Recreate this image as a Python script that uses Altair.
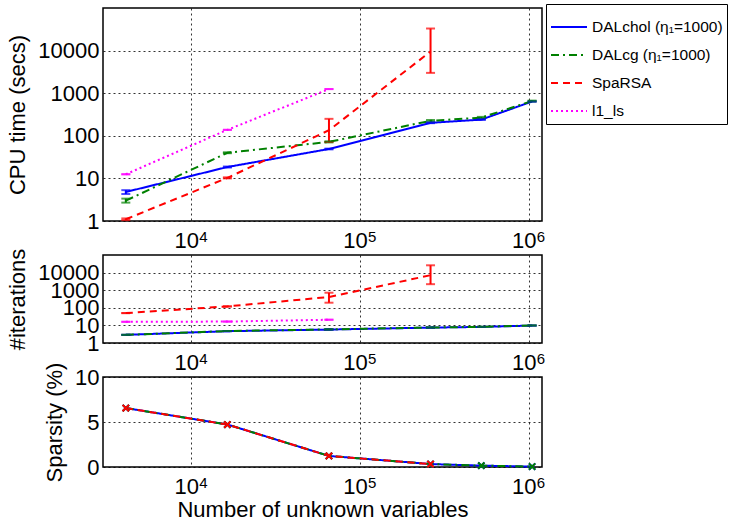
import altair as alt
import pandas as pd

FONT = "Liberation Sans"

x_vals = [4096, 16384, 65536, 262144, 524288, 1048576]
series = ["DALchol (η₁=1000)", "DALcg (η₁=1000)", "SpaRSA", "l1_ls"]
colors = ["#0000ff", "#008000", "#ff0000", "#ff00ff"]
dashes = [[1, 0], [8, 4, 2, 4], [7, 5], [2, 3]]

tick_values = [1e4, 1e5, 1e6]
tick_exponents = ["4", "5", "6"]

# CPU time (secs)
time_dalchol = [4.8, 18.5, 49, 202, 240, 640]
time_dalchol_lo = [4.3, 18.0, 48, 198, 236, 625]
time_dalchol_hi = [5.3, 19.0, 50, 206, 244, 655]
time_dalcg = [3.0, 40, 72, 225, 268, 655]
time_dalcg_lo = [2.7, 39, 70, 215, 258, 640]
time_dalcg_hi = [3.35, 41, 74, 235, 278, 670]
time_sparsa = [1.1, 10.3, 135, 9500]
time_sparsa_lo = [1.05, 10.0, 72, 3000]
time_sparsa_hi = [1.15, 10.6, 250, 33000]
time_l1ls = [12.5, 138, 1250]

# number of iterations
iter_dalchol = [2.9, 4.7, 5.8, 7.5, 8.2, 9.8]
iter_dalcg = [2.9, 4.8, 5.9, 7.6, 8.3, 9.9]
iter_sparsa = [50, 120, 410, 7100]
iter_sparsa_lo = [50, 120, 195, 2200]
iter_sparsa_hi = [50, 120, 720, 26000]
iter_l1ls = [16, 16.5, 21]

# sparsity (%)
spars_dalchol = [6.55, 4.72, 1.23, 0.33, 0.15, 0.05]
spars_dalcg = [6.55, 4.72, 1.23, 0.33, 0.15, 0.05]
spars_sparsa = [6.55, 4.72, 1.23, 0.33]


def frame(items):
    rows = []
    for name, vals, lo, hi in items:
        for i, v in enumerate(vals):
            rows.append({"x": x_vals[i], "s": name, "v": v,
                         "lo": lo[i] if lo else v, "hi": hi[i] if hi else v})
    return pd.DataFrame(rows)


df_time = frame([
    (series[0], time_dalchol, time_dalchol_lo, time_dalchol_hi),
    (series[1], time_dalcg, time_dalcg_lo, time_dalcg_hi),
    (series[2], time_sparsa, time_sparsa_lo, time_sparsa_hi),
    (series[3], time_l1ls, None, None),
])
df_iter = frame([
    (series[0], iter_dalchol, None, None),
    (series[1], iter_dalcg, None, None),
    (series[2], iter_sparsa, iter_sparsa_lo, iter_sparsa_hi),
    (series[3], iter_l1ls, None, None),
])
df_spars = frame([
    (series[0], spars_dalchol, None, None),
    (series[1], spars_dalcg, None, None),
    (series[2], spars_sparsa, None, None),
])
df_exp = pd.DataFrame({"x": tick_values, "e": tick_exponents})

xscale = alt.Scale(type="log", domain=[3000, 1.2e6], nice=False)
color_scale = alt.Scale(domain=series, range=colors)
dash_scale = alt.Scale(domain=series, range=dashes)
WIDTH = 439


def xaxis(title):
    if title:
        return alt.Axis(values=tick_values, labelExpr="'10'", labelOffset=-5,
                        labelPadding=9, title=title, titlePadding=2)
    return alt.Axis(values=tick_values, labelExpr="'10'", labelOffset=-5,
                    labelPadding=9, title=None)


def panel(df, ytitle, yscale, yvals, height, xtitle, show_legend, caps, markers):
    leg = alt.Legend(title=None) if show_legend else None
    base = alt.Chart(df)
    x = alt.X("x:Q", scale=xscale, axis=xaxis(xtitle))
    y = alt.Y("v:Q", scale=yscale, axis=alt.Axis(values=yvals, format="d", title=ytitle))
    col = alt.Color("s:N", scale=color_scale, legend=leg)
    dash = alt.StrokeDash("s:N", scale=dash_scale, legend=leg)
    col_nl = alt.Color("s:N", scale=color_scale, legend=None)
    layers = [base.mark_line(strokeWidth=2).encode(x=x, y=y, color=col, strokeDash=dash)]
    if caps:
        layers.append(base.mark_rule(strokeWidth=2).encode(
            x="x:Q", y="lo:Q", y2="hi:Q", color=col_nl))
        for f in ["lo", "hi"]:
            layers.append(base.mark_tick(orient="horizontal", size=9, thickness=2).encode(
                x="x:Q", y=alt.Y(f + ":Q"), color=col_nl))
    if markers:
        layers.append(base.mark_point(shape="M-1,-1L1,1M-1,1L1,-1", size=40, strokeWidth=2,
                                      filled=False, opacity=1).encode(
            x="x:Q", y="v:Q", color=col_nl))
    # superscript exponents of the x tick labels
    layers.append(alt.Chart(df_exp).mark_text(
        align="left", baseline="top", dx=8, fontSize=15, font=FONT, color="black"
    ).encode(x="x:Q", y=alt.value(height + 9), text="e:N"))
    return alt.layer(*layers).properties(width=WIDTH, height=height)


top = panel(df_time, "CPU time (secs)",
            alt.Scale(type="log", domain=[1, 1e5], nice=False),
            [1, 10, 100, 1000, 10000], 213, None, True, True, False)
mid = panel(df_iter, "#iterations",
            alt.Scale(type="log", domain=[1, 1e5], nice=False),
            [1, 10, 100, 1000, 10000], 88, None, False, True, False)
bot = panel(df_spars, "Sparsity (%)",
            alt.Scale(domain=[0, 10], nice=False),
            [0, 5, 10], 90, "Number of unknown variables", False, False, True)

chart = alt.vconcat(top, mid, bot, spacing=34, bounds="flush").resolve_scale(y="independent").properties(
    padding={"left": 6, "top": 3, "right": 3, "bottom": 0}
).configure(font=FONT).configure_view(
    stroke="black", strokeWidth=1.5
).configure_axis(
    grid=True, gridColor="black", gridDash=[2, 3], gridOpacity=0.8, gridWidth=1,
    domain=False, ticks=False, labelOverlap=False,
    labelFont=FONT, labelFontSize=22, labelColor="black",
    titleFont=FONT, titleFontSize=22, titleFontWeight="normal", titleColor="black",
    titlePadding=8, labelPadding=4
).configure_legend(
    orient="none", legendX=443, legendY=-4, padding=4, titlePadding=0,
    strokeColor="black", fillColor="white",
    cornerRadius=0, labelFont=FONT, labelFontSize=15.5, labelColor="black",
    symbolType="stroke", symbolSize=1296, symbolStrokeWidth=2,
    rowPadding=0, labelLimit=300, labelOffset=4
)

chart.save("out.html", embed_options={"renderer": "svg", "actions": False})
